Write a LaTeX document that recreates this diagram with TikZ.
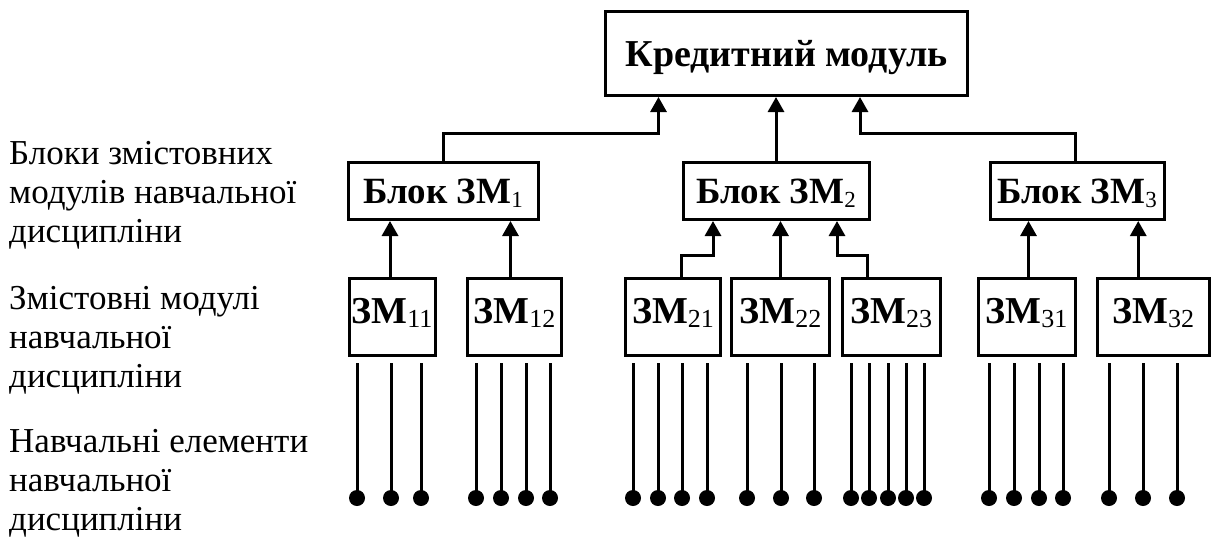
\documentclass[tikz,border=0pt]{standalone}
\usepackage{fontspec}
\setmainfont{Liberation Serif}
\usetikzlibrary{arrows.meta}
\newcommand{\zmIdx}[2][26]{\raisebox{-4pt}{\normalfont\fontsize{#1}{#1}\selectfont #2}}

\begin{document}
\begin{tikzpicture}
[x=1pt, y=-1pt,
  box/.style={draw, line width=3pt, inner sep=0pt},%
  moduleBox/.style={box, minimum height=84pt, text height=25pt, text depth=0pt,
    font=\bfseries\fontsize{38}{40}\selectfont},%
  blockBox/.style={box, minimum height=57pt, text height=24pt, text depth=0pt,
    font=\bfseries\fontsize{37}{40}\selectfont},%
  zmBox/.style={box, minimum height=77pt, text height=26pt, text depth=14pt,
    font=\bfseries\fontsize{38}{40}\selectfont},%
  arrowLine/.style={line width=3pt, -{Triangle[length=15pt,width=16pt]}},%
  leafLine/.style={line width=3pt},%
  levelText/.style={anchor=north west, inner sep=0pt, align=left,
    font=\fontsize{35}{39}\selectfont}]
\useasboundingbox (0,0) rectangle (1213,536);

%% level captions
\node[levelText] (capBlocks) at (9,141) {Блоки змістовних\\модулів навчальної\\дисципліни};
\node[levelText] (capModules) at (9,286) {Змістовні модулі\\навчальної\\дисципліни};
\node[levelText] (capElements) at (9,429) {Навчальні елементи\\навчальної\\дисципліни};

%% credit module and blocks
\node[moduleBox, minimum width=362pt] (kredit) at (786.5,53.5) {Кредитний модуль};
\node[blockBox, minimum width=190pt] (blok1) at (443,191) {Блок ЗМ\zmIdx[23]{1}};
\node[blockBox, minimum width=186pt] (blok2) at (776,191) {Блок ЗМ\zmIdx[23]{2}};
\node[blockBox, minimum width=174pt] (blok3) at (1077,191) {Блок ЗМ\zmIdx[23]{3}};

%% content modules
\node[zmBox, minimum width=86pt] (zm11) at (392,317) {ЗМ\zmIdx{11}};
\node[zmBox, minimum width=94pt] (zm12) at (514.5,317) {ЗМ\zmIdx{12}};
\node[zmBox, minimum width=95pt] (zm21) at (673,317) {ЗМ\zmIdx{21}};
\node[zmBox, minimum width=98pt] (zm22) at (780.5,317) {ЗМ\zmIdx{22}};
\node[zmBox, minimum width=97.5pt] (zm23) at (891.25,317) {ЗМ\zmIdx{23}};
\node[zmBox, minimum width=97pt] (zm31) at (1026.5,317) {ЗМ\zmIdx{31}};
\node[zmBox, minimum width=111.5pt] (zm32) at (1153.25,317) {ЗМ\zmIdx{32}};

%% blocks into the credit module
\draw[arrowLine] (blok1.north) -- ++(0,-28) -| ([xshift=-128pt]kredit.south);
\draw[arrowLine] (blok2.north) -- (blok2.north |- kredit.south);
\draw[arrowLine] ([xshift=-2pt]blok3.north) -- ++(0,-28) -| ([xshift=73.5pt]kredit.south);

%% modules into the blocks
\draw[arrowLine] ([xshift=-2pt]zm11.north) -- ([xshift=-2pt]zm11.north |- blok1.south);
\draw[arrowLine] ([xshift=-4pt]zm12.north) -- ([xshift=-4pt]zm12.north |- blok1.south);
\draw[arrowLine] ([xshift=8pt]zm21.north) -- ++(0,-22) -| ([xshift=-63pt]blok2.south);
\draw[arrowLine] (zm22.north) -- (zm22.north |- blok2.south);
\draw[arrowLine] ([xshift=-24pt]zm23.north) -- ++(0,-22) -| ([xshift=61pt]blok2.south);
\draw[arrowLine] ([xshift=2pt]zm31.north) -- ([xshift=2pt]zm31.north |- blok3.south);
\draw[arrowLine] ([xshift=-15pt]zm32.north) -- ([xshift=-15pt]zm32.north |- blok3.south);

%% learning elements
\foreach \x in {357,391,421, 476,501,526,550, 633,658,682,707, 747,781,814,
  851,869,888,906,924, 989,1014,1039,1063, 1109,1143,1177}
{
  \draw[leafLine] (\x,363) -- (\x,498);
  \fill (\x,498) circle (8pt);
}
\end{tikzpicture}
\end{document}
